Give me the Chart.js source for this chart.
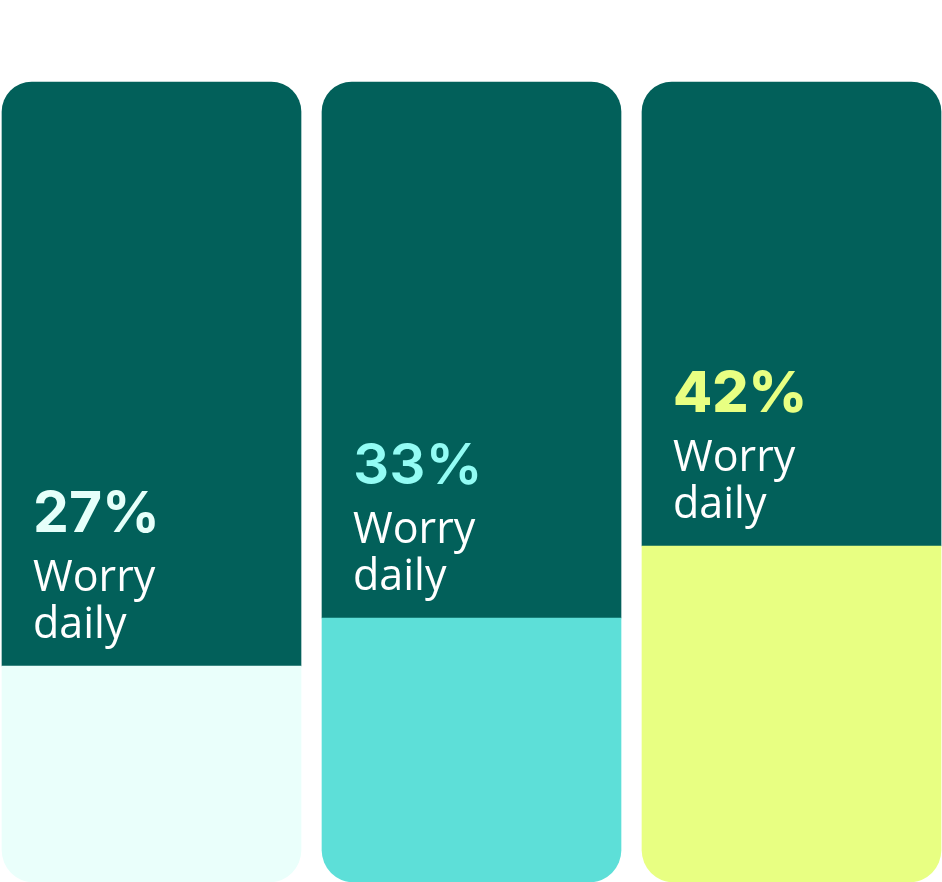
<!DOCTYPE html>
<html>
<head>
<meta charset="utf-8">
<script src="https://cdn.jsdelivr.net/npm/chart.js@4.4.0/dist/chart.umd.min.js"></script>
<style>
  html, body { margin: 0; padding: 0; background: #ffffff; }
  #wrap { width: 942px; height: 882px; position: relative; }
</style>
</head>
<body>
<div id="wrap"><canvas id="bar_chart"></canvas></div>
<script>
var groups = ["A", "B", "C"];
var worryDaily = [27, 33, 42];
var barColors = ['#eafffb', '#5ddfd8', '#e8ff82'];
var pctColors = ['#e6fffa', '#93fcf4', '#e8ff82'];
var pctWeights = ['700', '600', '800'];
var restOf = worryDaily.map(function (v) { return 100 - v; });

var labelPlugin = {
    id: 'worryLabels',
    afterDatasetsDraw: function (chart) {
        var ctx = chart.ctx;
        var meta = chart.getDatasetMeta(0);
        ctx.save();
        ctx.textAlign = 'left';
        ctx.textBaseline = 'alphabetic';
        meta.data.forEach(function (bar, i) {
            var left = bar.x - bar.width / 2 + 31;
            var b = bar.y;
            ctx.fillStyle = pctColors[i];
            ctx.font = pctWeights[i] + ' 57px Inter';
            ctx.fillText(worryDaily[i] + '%', left, b - 134);
            ctx.fillStyle = '#ffffff';
            ctx.font = '400 43px "Open Sans"';
            ctx.fillText('Worry', left, b - 75);
            ctx.fillText('daily', left, b - 28);
        });
        ctx.restore();
    }
};

new Chart(document.getElementById("bar_chart").getContext("2d"), {
    type: 'bar',
    data: {
        labels: groups,
        datasets: [{
            label: "Worry daily",
            data: worryDaily,
            backgroundColor: barColors,
            borderSkipped: false,
            borderRadius: { topLeft: 0, topRight: 0, bottomLeft: 32, bottomRight: 32 },
            clip: false
        }, {
            label: "Rest",
            data: restOf,
            backgroundColor: '#02605a',
            borderSkipped: false,
            borderRadius: { topLeft: 30, topRight: 30, bottomLeft: 0, bottomRight: 0 },
            clip: false
        }]
    },
    options: {
        responsive: true,
        maintainAspectRatio: false,
        animation: false,
        layout: { padding: { left: 151.5, right: 150.5, top: 82, bottom: 0 } },
        datasets: { bar: { barThickness: 299 } },
        scales: {
            x: { stacked: true, display: false, offset: false },
            y: { stacked: true, display: false, min: 0, max: 100 }
        },
        plugins: { legend: { display: false }, tooltip: { enabled: false } }
    },
    plugins: [labelPlugin]
});
</script>
</body>
</html>
